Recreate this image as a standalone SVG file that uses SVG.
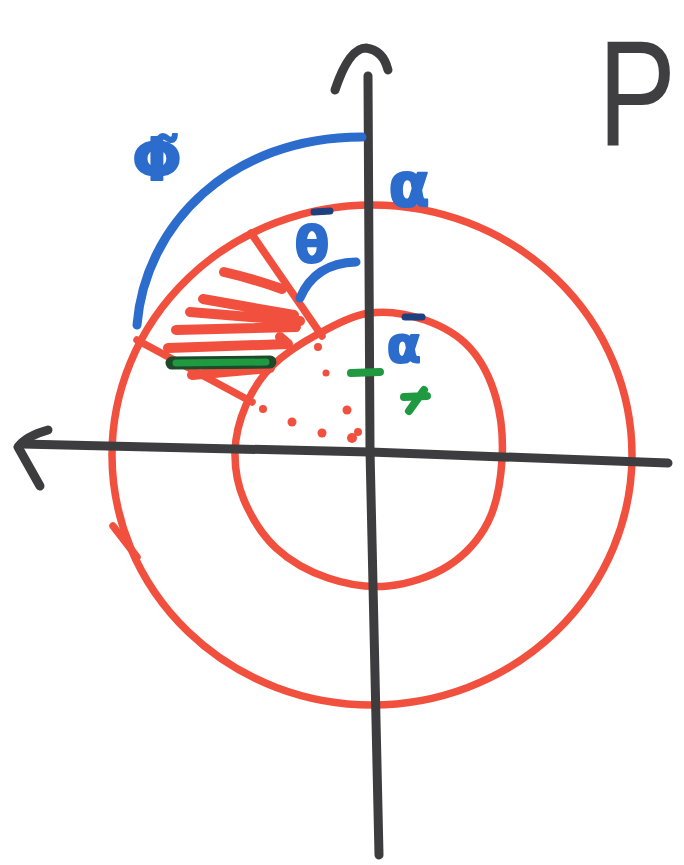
<svg xmlns="http://www.w3.org/2000/svg" width="684" height="865" viewBox="0 0 684 865">
<style>
.ax{fill:none;stroke:#3d3d3f;stroke-width:9;stroke-linecap:round;stroke-linejoin:round}
.rd{fill:none;stroke:#f2503f;stroke-width:7.5;stroke-linecap:round;stroke-linejoin:round}
.ht{fill:none;stroke:#f2503f;stroke-width:10;stroke-linecap:round;stroke-linejoin:round}
.bl{fill:none;stroke:#2b6ccc;stroke-width:9;stroke-linecap:round}
.dk{fill:none;stroke:#1f3f7e;stroke-width:7;stroke-linecap:round}
.gr{fill:none;stroke:#1f9a40;stroke-width:8;stroke-linecap:round}
.lbl{font-family:"DejaVu Sans",sans-serif;font-weight:bold;fill:#2b6ccc;stroke:#2b6ccc;stroke-width:2;stroke-linejoin:round;text-anchor:middle}
.dot{fill:#f2503f}
</style>
<rect width="684" height="865" fill="#ffffff"/>
<g id="corner-letter">
<text transform="translate(598,145) scale(0.78,1)" x="0" y="0" font-family="Liberation Sans, sans-serif" font-size="150" fill="#3f3f42">P</text>
</g>
<g id="circles">
<ellipse class="rd" cx="372" cy="455" rx="260" ry="250"/>
<path class="rd" d="M113,526 L137,557"/>
<path class="rd" d="M370,313 C387.8,310.7 408.3,314.2 425,320 C441.7,325.8 458.2,335 470,348 C481.8,361 490.7,379.3 496,398 C501.3,416.7 503.3,439.3 502,460 C500.7,480.7 497,504.3 488,522 C479,539.7 464.7,555.3 448,566 C431.3,576.7 408,584 388,586 C368,588 346.7,584.3 328,578 C309.3,571.7 290,561 276,548 C262,535 250.8,516 244,500 C237.2,484 234.7,467.8 235,452 C235.3,436.2 239.8,419.3 246,405 C252.2,390.7 260,377.8 272,366 C284,354.2 301.7,342.8 318,334 C334.3,325.2 352.2,315.3 370,313 Z"/>
</g>
<g id="dots">
<circle class="dot" cx="318" cy="347" r="4"/>
<circle class="dot" cx="326" cy="373" r="3.5"/>
<circle class="dot" cx="263" cy="409" r="4"/>
<circle class="dot" cx="292" cy="422" r="4.5"/>
<circle class="dot" cx="322" cy="433" r="4.5"/>
<circle class="dot" cx="347" cy="410" r="4.5"/>
<circle class="dot" cx="352" cy="438" r="5"/>
<circle class="dot" cx="358" cy="432" r="4"/>
</g>
<g id="sector">
<path class="rd" d="M251,233 L322,336"/>
<path class="rd" d="M137,340 L252,402"/>
<path class="ht" d="M224,272 C250,278 268,284 282,289 M203,299 L294,315 M190,312 L300,321 M176,330 L296,327 M168,348 L288,344 L280,337 M192,375 L270,368"/>
<path d="M172,363 L270,362" fill="none" stroke="#1c4a2a" stroke-width="13" stroke-linecap="round"/>
<path d="M176,363 L266,362" fill="none" stroke="#1f9a40" stroke-width="7" stroke-linecap="round"/>
</g>
<g id="axes">
<path class="ax" d="M22,444 L370,452 L668,463"/>
<path class="ax" d="M48,430 Q26,436 18,447 L40,486"/>
<path class="ax" d="M368,76 L370,450 L379,855"/>
<path class="ax" d="M335,90 Q349,48 366,48 Q383,50 388,70"/>
</g>
<g id="marks">
<path class="gr" d="M351,373 L380,372"/>
<path class="gr" d="M404,397 L427,396 M424,390 L409,411"/>
<path class="dk" d="M314,212 L330,211"/>
<path class="dk" d="M405,317 L422,317"/>
</g>
<g id="arcs">
<path class="bl" d="M137,325 C145,225 230,137 362,137"/>
<path class="bl" d="M300,298 Q315,263 356,262"/>
</g>
<g id="labels">
<text class="lbl" x="157" y="180" font-size="58">Φ̃</text>
<text class="lbl" x="312" y="262" font-size="50">θ</text>
<text class="lbl" x="409" y="206" font-size="60">α</text>
<text class="lbl" x="404" y="362" font-size="50">α</text>
</g>
</svg>
